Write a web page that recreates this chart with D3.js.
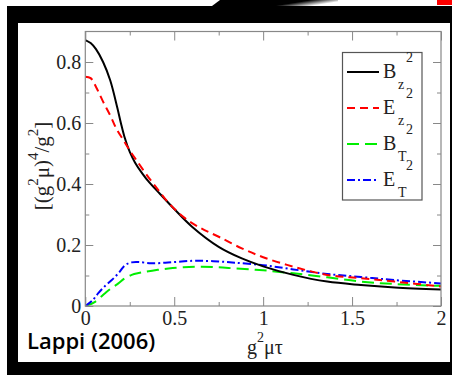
<!DOCTYPE html>
<html><head><meta charset="utf-8">
<script src="https://cdn.jsdelivr.net/npm/d3@7"></script>
<style>html,body{margin:0;padding:0;background:#fff;}svg{display:block;}</style>
</head><body>
<script>
// ---- data ----
const seriesNames = ["Bz2","Ez2","BT2","ET2"];
const tBz = [0,0.03,0.06,0.1,0.14,0.18,0.2,0.22,0.25,0.28,0.32,0.36,0.4,0.5,0.6,0.75,0.88,1.0,1.17,1.36,1.55,1.74,2.0];
const vBz = [0.872,0.862,0.842,0.80,0.74,0.65,0.60,0.555,0.505,0.47,0.435,0.405,0.38,0.318,0.26,0.194,0.156,0.13,0.102,0.08,0.069,0.061,0.054];
const tEz = [0,0.03,0.064,0.1,0.14,0.176,0.214,0.25,0.29,0.345,0.4,0.47,0.56,0.65,0.75,0.88,1.0,1.17,1.36,1.55,1.74,2.0];
const vEz = [0.752,0.747,0.714,0.67,0.625,0.58,0.544,0.51,0.476,0.43,0.388,0.337,0.288,0.255,0.227,0.189,0.16,0.129,0.102,0.091,0.080,0.064];
const tBT = [0,0.05,0.111,0.15,0.186,0.22,0.261,0.3,0.337,0.4,0.468,0.55,0.656,0.75,0.844,1.0,1.17,1.36,1.55,1.74,2.0];
const vBT = [0,0.012,0.042,0.06,0.074,0.09,0.102,0.108,0.112,0.118,0.123,0.127,0.129,0.127,0.123,0.117,0.107,0.094,0.08,0.072,0.066];
const tET = [0,0.04,0.073,0.11,0.149,0.19,0.224,0.26,0.3,0.37,0.45,0.52,0.6,0.66,0.75,0.84,1.0,1.17,1.36,1.55,1.74,2.0];
const vET = [0,0.018,0.042,0.065,0.085,0.11,0.134,0.143,0.144,0.14,0.142,0.145,0.148,0.148,0.146,0.142,0.134,0.12,0.105,0.095,0.085,0.074];
const xTicks = [0,0.5,1,1.5,2];
const xTickLabels = ["0","0.5","1","1.5","2"];
const xMinor = [0.25,0.75,1.25,1.75];
const yTicks = [0,0.2,0.4,0.6,0.8];
const yTickLabels = ["0","0.2","0.4","0.6","0.8"];
const yMinor = [0.1,0.3,0.5,0.7];
const legendMain = ["B","E","B","E"];
const legendSub = ["z","z","T","T"];
const legendSup = ["2","2","2","2"];
const sourceText = "Lappi (2006)";

const W = 452, H = 375;
const svg = d3.select("body").append("svg").attr("width", W).attr("height", H);

// background framing
svg.append("rect").attr("x",0).attr("y",0).attr("width",W).attr("height",H).attr("fill","#fff");
const defs = svg.append("defs");
const grad = defs.append("linearGradient").attr("id","fade").attr("x1","0").attr("x2","1").attr("y1","0").attr("y2","0.3");
grad.append("stop").attr("offset","0.72").attr("stop-color","#000");
grad.append("stop").attr("offset","1").attr("stop-color","#fff");
svg.append("path").attr("d","M212,6 L220,0 L338,0 L338,6 Z").attr("fill","url(#fade)");
svg.append("rect").attr("x",437).attr("y",0).attr("width",15).attr("height",5).attr("fill","#f00");
svg.append("rect").attr("x",7).attr("y",6).attr("width",W-7).attr("height",H-6).attr("fill","#000");
svg.append("rect").attr("x",18).attr("y",23).attr("width",432).attr("height",339).attr("fill","#fff");

// scales
const x = d3.scaleLinear().domain([0,2]).range([85.3,441]);
const y = d3.scaleLinear().domain([0,0.9]).range([306,31.5]);
const frameCol = "#888";
const textCol = "#222";
const serif = "'Liberation Serif','Times New Roman',serif";

const g = svg.append("g");

// curves
const lineGen = d3.line().x(d=>x(d[0])).y(d=>y(d[1])).curve(d3.curveCatmullRom.alpha(0.5));
const series = [
  {name:seriesNames[0], t:tBz, v:vBz, color:"#000", dash:null},
  {name:seriesNames[1], t:tEz, v:vEz, color:"#ff0000", dash:"8,5"},
  {name:seriesNames[2], t:tBT, v:vBT, color:"#00ee00", dash:"12,6"},
  {name:seriesNames[3], t:tET, v:vET, color:"#0000ff", dash:"8,3,2,3"}
];
const clip = defs.append("clipPath").attr("id","plotclip");
clip.append("rect").attr("x",x(0)).attr("y",y(0.9)).attr("width",x(2)-x(0)).attr("height",y(0)-y(0.9));
const curves = g.append("g").attr("clip-path","url(#plotclip)");
[series[2],series[3],series[0],series[1]].forEach(s=>{
  curves.append("path").datum(s.t.map((t,i)=>[t,s.v[i]]))
    .attr("d",lineGen).attr("fill","none").attr("stroke",s.color)
    .attr("stroke-width",2).attr("stroke-dasharray",s.dash);
});

// axes (ticks inward)
function styleAxis(sel){
  sel.select(".domain").remove();
  sel.selectAll("line").attr("stroke",frameCol).attr("stroke-width",1);
  sel.selectAll("text").attr("fill",textCol).attr("font-family",serif).attr("font-size",20);
}
const bottomMajor = g.append("g").attr("transform",`translate(0,${y(0)})`)
  .call(d3.axisBottom(x).tickValues(xTicks).tickSizeInner(-9).tickSizeOuter(0).tickPadding(5).tickFormat((d,i)=>xTickLabels[i]));
styleAxis(bottomMajor);
const bottomMinor = g.append("g").attr("transform",`translate(0,${y(0)})`)
  .call(d3.axisBottom(x).tickValues(xMinor).tickSizeInner(-4).tickSizeOuter(0).tickFormat(""));
styleAxis(bottomMinor);
const topMajor = g.append("g").attr("transform",`translate(0,${y(0.9)})`)
  .call(d3.axisTop(x).tickValues(xTicks).tickSizeInner(-9).tickSizeOuter(0).tickFormat(""));
styleAxis(topMajor);
const topMinor = g.append("g").attr("transform",`translate(0,${y(0.9)})`)
  .call(d3.axisTop(x).tickValues(xMinor).tickSizeInner(-4).tickSizeOuter(0).tickFormat(""));
styleAxis(topMinor);
const leftMajor = g.append("g").attr("transform",`translate(${x(0)},0)`)
  .call(d3.axisLeft(y).tickValues(yTicks).tickSizeInner(-8).tickSizeOuter(0).tickPadding(4).tickFormat((d,i)=>yTickLabels[i]));
styleAxis(leftMajor);
const leftMinor = g.append("g").attr("transform",`translate(${x(0)},0)`)
  .call(d3.axisLeft(y).tickValues(yMinor).tickSizeInner(-4).tickSizeOuter(0).tickFormat(""));
styleAxis(leftMinor);
const rightMajor = g.append("g").attr("transform",`translate(${x(2)},0)`)
  .call(d3.axisRight(y).tickValues(yTicks).tickSizeInner(-8).tickSizeOuter(0).tickFormat(""));
styleAxis(rightMajor);
const rightMinor = g.append("g").attr("transform",`translate(${x(2)},0)`)
  .call(d3.axisRight(y).tickValues(yMinor).tickSizeInner(-4).tickSizeOuter(0).tickFormat(""));
styleAxis(rightMinor);

// frame
g.append("rect").attr("x",x(0)).attr("y",y(0.9)).attr("width",x(2)-x(0)).attr("height",y(0)-y(0.9))
  .attr("fill","none").attr("stroke",frameCol).attr("stroke-width",1.2);

// axis titles
const xt = g.append("text").attr("x",265).attr("y",354).attr("text-anchor","middle")
  .attr("font-family",serif).attr("font-size",20).attr("fill",textCol);
xt.append("tspan").text("g");
xt.append("tspan").attr("dy",-12).attr("font-size",14).text("2");
xt.append("tspan").attr("dy",12).text("μτ");

const yt = g.append("text").attr("transform","translate(49,166) rotate(-90)").attr("text-anchor","middle")
  .attr("font-family",serif).attr("font-size",21).attr("fill",textCol);
yt.append("tspan").text("[(g");
yt.append("tspan").attr("dy",-11).attr("font-size",15).text("2");
yt.append("tspan").attr("dy",11).text("μ)");
yt.append("tspan").attr("dy",-11).attr("font-size",15).text("4");
yt.append("tspan").attr("dy",11).text("/g");
yt.append("tspan").attr("dy",-11).attr("font-size",15).text("2");
yt.append("tspan").attr("dy",11).text("]");

// legend
const lg = g.append("g");
lg.append("rect").attr("x",342.5).attr("y",52.5).attr("width",79.5).attr("height",147.5)
  .attr("fill","#fff").attr("stroke","#555").attr("stroke-width",1.2);
series.forEach((s,i)=>{
  const ly = 72 + i*36;
  lg.append("line").attr("x1",347).attr("x2",379).attr("y1",ly).attr("y2",ly)
    .attr("stroke",s.color).attr("stroke-width",2).attr("stroke-dasharray",s.dash);
  lg.append("text").attr("x",383).attr("y",ly+6).attr("font-family",serif).attr("font-size",20).attr("fill",textCol).text(legendMain[i]);
  lg.append("text").attr("x",398).attr("y",ly+17).attr("font-family",serif).attr("font-size",14).attr("fill",textCol).text(legendSub[i]);
  lg.append("text").attr("x",406).attr("y",ly-10).attr("font-family",serif).attr("font-size",14).attr("fill",textCol).text(legendSup[i]);
});

// source
g.append("text").attr("x",27).attr("y",349).attr("font-family","'Open Sans','Noto Sans',sans-serif")
  .attr("font-weight",600).attr("font-size",22).attr("fill","#000").text(sourceText);
</script>
</body></html>
